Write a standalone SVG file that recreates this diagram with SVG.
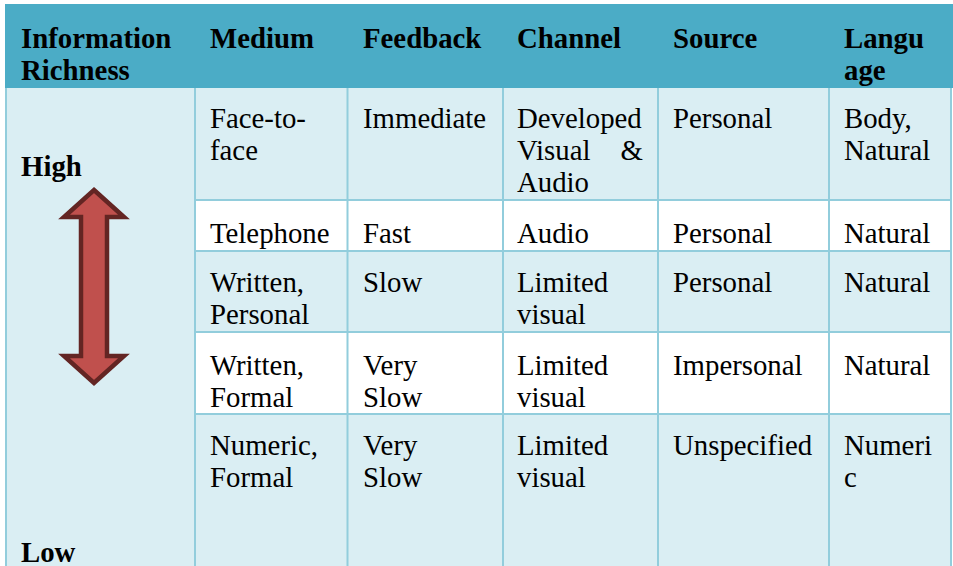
<svg xmlns="http://www.w3.org/2000/svg" width="953" height="566" viewBox="0 0 953 566">
<style>
.t{font-family:"Liberation Serif","Times New Roman",serif;font-size:28.8px;fill:#000}
.h{font-family:"Liberation Serif","Times New Roman",serif;font-size:28.8px;font-weight:bold;fill:#000}
.g{stroke:#92CDDC;stroke-width:2;fill:none}
</style>
<rect width="953" height="566" fill="#FFFFFF"/>
<g id="header">
<rect x="5" y="4" width="948" height="84" fill="#4BACC6"/>
<text class="h" x="21" y="48">Information</text>
<text class="h" x="21" y="80">Richness</text>
<text class="h" x="210" y="48">Medium</text>
<text class="h" x="363" y="48">Feedback</text>
<text class="h" x="517" y="48">Channel</text>
<text class="h" x="673" y="48">Source</text>
<text class="h" x="844" y="48">Langu</text>
<text class="h" x="844" y="80">age</text>
</g>
<g id="backgrounds">
<rect x="6" y="88" width="189" height="478" fill="#DAEEF3"/>
<rect x="195" y="88" width="756" height="112" fill="#DAEEF3"/>
<rect x="195" y="251" width="756" height="81" fill="#DAEEF3"/>
<rect x="195" y="414" width="756" height="152" fill="#DAEEF3"/>
</g>
<g id="grid">
<line class="g" x1="6" y1="88" x2="6" y2="566"/>
<line class="g" x1="195" y1="88" x2="195" y2="566"/>
<line class="g" x1="347.5" y1="88" x2="347.5" y2="566"/>
<line class="g" x1="503" y1="88" x2="503" y2="566"/>
<line class="g" x1="658" y1="88" x2="658" y2="566"/>
<line class="g" x1="829" y1="88" x2="829" y2="566"/>
<line class="g" x1="951" y1="88" x2="951" y2="566"/>
<line class="g" x1="195" y1="200" x2="951" y2="200"/>
<line class="g" x1="195" y1="251" x2="951" y2="251"/>
<line class="g" x1="195" y1="332" x2="951" y2="332"/>
<line class="g" x1="195" y1="414" x2="951" y2="414"/>
</g>
<g id="richness">
<text class="h" x="21" y="176">High</text>
<path d="M94,190 L124,217 L107,217 L107,356 L124,356 L94,383 L64,356 L81,356 L81,217 L64,217 Z" fill="#C0504D" stroke="#632523" stroke-width="4.5" stroke-linejoin="miter"/>
<text class="h" x="21" y="562">Low</text>
</g>
<g id="row-face">
<text class="t" x="210" y="128">Face-to-</text>
<text class="t" x="210" y="160">face</text>
<text class="t" x="363" y="128">Immediate</text>
<text class="t" x="517" y="128">Developed</text>
<text class="t" x="517" y="160">Visual</text>
<text class="t" x="643" y="160" text-anchor="end">&amp;</text>
<text class="t" x="517" y="192">Audio</text>
<text class="t" x="673" y="128">Personal</text>
<text class="t" x="844" y="128">Body,</text>
<text class="t" x="844" y="160">Natural</text>
</g>
<g id="row-telephone">
<text class="t" x="210" y="243">Telephone</text>
<text class="t" x="363" y="243">Fast</text>
<text class="t" x="517" y="243">Audio</text>
<text class="t" x="673" y="243">Personal</text>
<text class="t" x="844" y="243">Natural</text>
</g>
<g id="row-written-personal">
<text class="t" x="210" y="292">Written,</text>
<text class="t" x="210" y="324">Personal</text>
<text class="t" x="363" y="292">Slow</text>
<text class="t" x="517" y="292">Limited</text>
<text class="t" x="517" y="324">visual</text>
<text class="t" x="673" y="292">Personal</text>
<text class="t" x="844" y="292">Natural</text>
</g>
<g id="row-written-formal">
<text class="t" x="210" y="375">Written,</text>
<text class="t" x="210" y="407">Formal</text>
<text class="t" x="363" y="375">Very</text>
<text class="t" x="363" y="407">Slow</text>
<text class="t" x="517" y="375">Limited</text>
<text class="t" x="517" y="407">visual</text>
<text class="t" x="673" y="375">Impersonal</text>
<text class="t" x="844" y="375">Natural</text>
</g>
<g id="row-numeric">
<text class="t" x="210" y="455">Numeric,</text>
<text class="t" x="210" y="487">Formal</text>
<text class="t" x="363" y="455">Very</text>
<text class="t" x="363" y="487">Slow</text>
<text class="t" x="517" y="455">Limited</text>
<text class="t" x="517" y="487">visual</text>
<text class="t" x="673" y="455">Unspecified</text>
<text class="t" x="844" y="455">Numeri</text>
<text class="t" x="844" y="487">c</text>
</g>
</svg>
